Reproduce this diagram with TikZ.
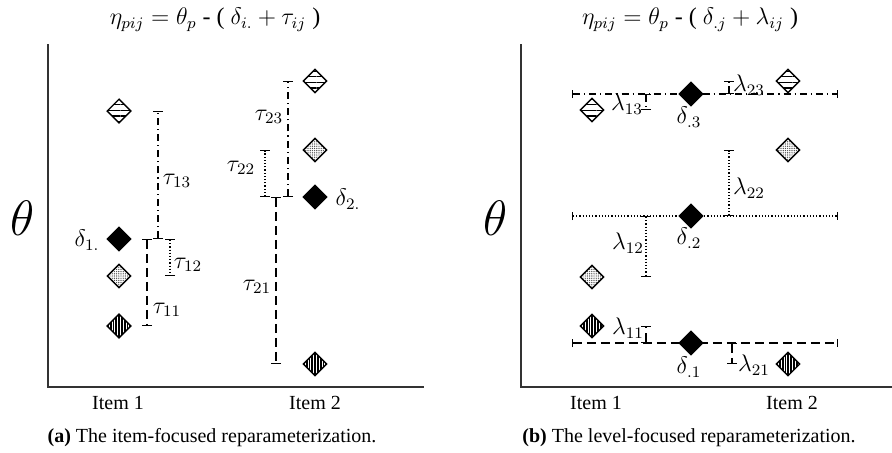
\documentclass[tikz,border=0pt]{standalone}
\usepackage{fontspec}
\setmainfont{Liberation Serif}
\usepackage{tikz}
\usetikzlibrary{arrows.meta,shapes.geometric,patterns.meta,calc,backgrounds}

\begin{document}
\begin{tikzpicture}[x=0.5pt, y=-0.5pt,
  dia/.style={diamond, draw, inner sep=0pt, minimum size=12pt, line width=0.7pt},
  dmean/.style={dia, fill=black},
  dlev3/.style={dia, preaction={fill=white}, pattern={Lines[angle=0,distance=2.8pt,line width=0.55pt]}},
  dlev2/.style={dia, preaction={fill=white}, pattern={Dots[distance=1.1pt,radius=0.35pt]}, pattern color=black!70},
  dlev1/.style={dia, preaction={fill=black}, pattern={Lines[angle=90,distance=1.4pt,line width=0.35pt]}, pattern color=white},
  lab/.style={font=\large, inner sep=1pt},
  bar/.style={{Bar[width=5pt]}-{Bar[width=5pt]}, line width=0.6pt},
  lvl/.style={{Bar[width=4pt]}-{Bar[width=4pt]}, line width=0.65pt},
  sty3/.style={dash pattern=on 3.5pt off 2pt on 0.6pt off 2pt},
  sty2/.style={dash pattern=on 0.6pt off 1pt},
  sty1/.style={dash pattern=on 4.5pt off 2.5pt},
  axis/.style={line width=0.8pt, black!80},
]
  \useasboundingbox (0,0) rectangle (892,452);

  % (a) item-focused
  \node[font=\large] (titleA) at (215,20) {$\eta_{pij} = \theta_p$ - ( $\delta_{i.} + \tau_{ij}$ )};
  \node[font=\fontsize{26}{28}\selectfont] (thetaA) at (23,218) {$\theta$};
  \coordinate (oA) at (48,387);
  \draw[axis] (48,44) -- (oA) -- (424,387);
  \node (item1A) at (118,403) {Item 1};
  \node (item2A) at (315,403) {Item 2};
  \node (capA) at (212,438) {\textbf{(a)} The item-focused reparameterization.};

  \node[dlev3] (a13) at (119,111) {};
  \node[dmean] (a1m) at (119,239) {};
  \node[dlev2] (a12) at (119,276) {};
  \node[dlev1] (a11) at (119,326) {};
  \node[dlev3] (a23) at (315,81) {};
  \node[dlev2] (a22) at (315,150) {};
  \node[dmean] (a2m) at (315,197) {};
  \node[dlev1] (a21) at (315,364) {};

  \draw[bar, sty3] ($(a1m)+(39,0)$) -- ($(a1m |- a13)+(39,0)$);
  \draw[bar, sty2] ($(a1m)+(51,0)$) -- ($(a1m |- a12)+(51,0)$);
  \draw[bar, sty1] ($(a1m)+(28,0)$) -- ($(a1m |- a11)+(28,0)$);
  \draw[bar, sty3] ($(a2m)+(-27,0)$) -- ($(a2m |- a23)+(-27,0)$);
  \draw[bar, sty2] ($(a2m)+(-50,0)$) -- ($(a2m |- a22)+(-50,0)$);
  \draw[bar, sty1] ($(a2m)+(-39,0)$) -- ($(a2m |- a21)+(-39,0)$);

  % Annotations
  \node[lab] (d1A) at (87,240) {$\delta_{1.}$};
  \node[lab] (d2A) at (348,199) {$\delta_{2.}$};
  \node[lab] (t13) at (177,181) {$\tau_{13}$};
  \node[lab] (t12) at (188,265) {$\tau_{12}$};
  \node[lab] (t11) at (167,310) {$\tau_{11}$};
  \node[lab] (t23) at (269,117) {$\tau_{23}$};
  \node[lab] (t22) at (241,168) {$\tau_{22}$};
  \node[lab] (t21) at (257,287) {$\tau_{21}$};

  % (b) level-focused
  \node[font=\large] (titleB) at (690,20) {$\eta_{pij} = \theta_p$ - ( $\delta_{.j} + \lambda_{ij}$ )};
  \node[font=\fontsize{26}{28}\selectfont] (thetaB) at (496,218) {$\theta$};
  \coordinate (oB) at (521,387);
  \draw[axis] (521,44) -- (oB) -- (892,387);
  \node (item1B) at (596,403) {Item 1};
  \node (item2B) at (792,403) {Item 2};
  \node (capB) at (689,438) {\textbf{(b)} The level-focused reparameterization.};

  \node[dmean] (b3m) at (691,94) {};
  \node[dmean] (b2m) at (691,216) {};
  \node[dmean] (b1m) at (691,343) {};
  \node[dlev3] (b13) at (592,110) {};
  \node[dlev2] (b12) at (592,277) {};
  \node[dlev1] (b11) at (592,326) {};
  \node[dlev3] (b23) at (788,81) {};
  \node[dlev2] (b22) at (788,150) {};
  \node[dlev1] (b21) at (788,364) {};

  \begin{scope}[on background layer]
    \draw[lvl, sty3] ($(b3m)+(-119,0)$) -- ($(b3m)+(147,0)$);
    \draw[lvl, sty2] ($(b2m)+(-119,0)$) -- ($(b2m)+(147,0)$);
    \draw[lvl, sty1] ($(b1m)+(-119,0)$) -- ($(b1m)+(147,0)$);
  \end{scope}

  \draw[bar, sty3] ($(b3m)+(-45,0)$) -- ($(b3m |- b13)+(-45,0)$);
  \draw[bar, sty3] ($(b3m)+(38,0)$) -- ($(b3m |- b23)+(38,0)$);
  \draw[bar, sty2] ($(b2m)+(-45,0)$) -- ($(b2m |- b12)+(-45,0)$);
  \draw[bar, sty2] ($(b2m)+(38,0)$) -- ($(b2m |- b22)+(38,0)$);
  \draw[bar, sty1] ($(b1m)+(-45,0)$) -- ($(b1m |- b11)+(-45,0)$);
  \draw[bar, sty1] ($(b1m)+(41,0)$) -- ($(b1m |- b21)+(41,0)$);

  % Annotations
  \node[lab] (d3B) at (689,117) {$\delta_{.3}$};
  \node[lab] (d2B) at (689,238) {$\delta_{.2}$};
  \node[lab] (d1B) at (689,367) {$\delta_{.1}$};
  \node[lab] (l13) at (627,104) {$\lambda_{13}$};
  \node[lab] (l23) at (749,85) {$\lambda_{23}$};
  \node[lab] (l22) at (749,188) {$\lambda_{22}$};
  \node[lab] (l12) at (628,243) {$\lambda_{12}$};
  \node[lab] (l11) at (628,328) {$\lambda_{11}$};
  \node[lab] (l21) at (754,365) {$\lambda_{21}$};
\end{tikzpicture}
\end{document}
